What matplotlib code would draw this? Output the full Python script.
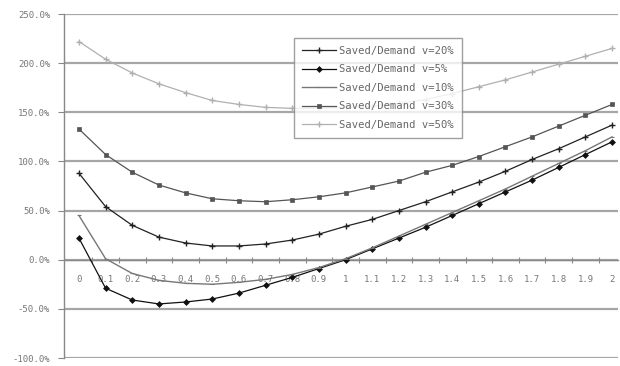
import matplotlib
matplotlib.use("Agg")
import matplotlib.pyplot as plt
from matplotlib.ticker import FixedLocator, FuncFormatter

x_labels = ["0", "0.1", "0.2", "0.3", "0.4", "0.5", "0.6", "0.7", "0.8", "0.9", "1",
            "1.1", "1.2", "1.3", "1.4", "1.5", "1.6", "1.7", "1.8", "1.9", "2"]

series_names = ["Saved/Demand v=20%", "Saved/Demand v=5%", "Saved/Demand v=10%",
                "Saved/Demand v=30%", "Saved/Demand v=50%"]

v20 = [88, 54, 35, 23, 17, 14, 14, 16, 20, 26, 34, 41, 50, 59, 69, 79, 90, 102, 113, 125, 137]
v5 = [22, -29, -41, -45, -43, -40, -34, -26, -18, -9, 0, 11, 22, 33, 45, 57, 69, 81, 94, 107, 120]
v10 = [45, 1, -14, -21, -24, -25, -23, -20, -15, -8, 1, 12, 24, 36, 48, 60, 72, 85, 98, 111, 125]
v30 = [133, 107, 89, 76, 68, 62, 60, 59, 61, 64, 68, 74, 80, 89, 96, 105, 115, 125, 136, 147, 158]
v50 = [222, 204, 190, 179, 170, 162, 158, 155, 154, 154, 155, 156, 159, 163, 169, 176, 183, 191, 199, 207, 215]

y_ticks = [-100, -50, 0, 50, 100, 150, 200, 250]

W, H = 620, 366
fig = plt.figure(figsize=(W / 100, H / 100), dpi=100)
ax = fig.add_axes([64 / W, (H - 358) / H, (618 - 64) / W, (358 - 14) / H])

idx = list(range(len(x_labels)))
styles = [
    dict(color="#222222", marker="+", ms=5, mew=1.0, lw=0.9),
    dict(color="#111111", marker="D", ms=3.0, mew=0.5, lw=0.9),
    dict(color="#777777", marker="_", ms=3, mew=0.8, lw=1.0),
    dict(color="#555555", marker="s", ms=2.4, mew=0.5, lw=0.9),
    dict(color="#b0b0b0", marker="+", ms=4, mew=1.0, lw=0.9),
]
for name, vals, st in zip(series_names, [v20, v5, v10, v30, v50], styles):
    ax.plot(idx, vals, label=name, zorder=3, **st)

ax.set_ylim(-100, 250)
ax.set_xlim(-0.56, 20.22)

# horizontal gridlines
for t in y_ticks:
    ax.axhline(t, color="#a6a6a6", lw=1.6, zorder=1)

ax.set_yticks(y_ticks)
ax.yaxis.set_major_formatter(FuncFormatter(lambda v, p: f"{v:.1f}%"))
ax.tick_params(axis="y", direction="out", length=4, width=0.8, color="#888888",
               pad=6, labelsize=6.5, labelcolor="#777777")
for lab in ax.get_yticklabels():
    lab.set_family("DejaVu Sans Mono")

# category axis crossing at zero
ax.spines["bottom"].set_position(("data", 0))
ax.spines["bottom"].set_color("#888888")
ax.spines["bottom"].set_linewidth(1.0)
ax.xaxis.set_major_locator(FixedLocator([i + 0.5 for i in idx]))
ax.xaxis.set_major_formatter(FuncFormatter(lambda v, p: ""))
ax.xaxis.set_minor_locator(FixedLocator(idx))
ax.xaxis.set_minor_formatter(FuncFormatter(lambda v, p: x_labels[int(round(v))]))
ax.tick_params(axis="x", which="major", direction="inout", length=4, width=0.8, color="#888888")
ax.tick_params(axis="x", which="minor", length=0, pad=11, labelsize=6.5, labelcolor="#777777")
for lab in ax.xaxis.get_minorticklabels():
    lab.set_family("DejaVu Sans Mono")

ax.spines["left"].set_color("#888888")
ax.spines["left"].set_linewidth(1.0)
ax.spines["top"].set_visible(False)
ax.spines["right"].set_visible(False)

leg = ax.legend(loc="upper left", bbox_to_anchor=((294 - 64) / (618 - 64), 1 - (38 - 14) / (358 - 14)),
                prop=dict(family="DejaVu Sans Mono", size=7.6), frameon=True, fancybox=False,
                borderpad=0.75, labelspacing=0.8, handlelength=3.2, handletextpad=0.35,
                borderaxespad=0)
leg.get_frame().set_edgecolor("#888888")
leg.get_frame().set_linewidth(1.0)
leg.set_zorder(5)
for t in leg.get_texts():
    t.set_color("#666666")

fig.savefig("out.png", dpi=100)
